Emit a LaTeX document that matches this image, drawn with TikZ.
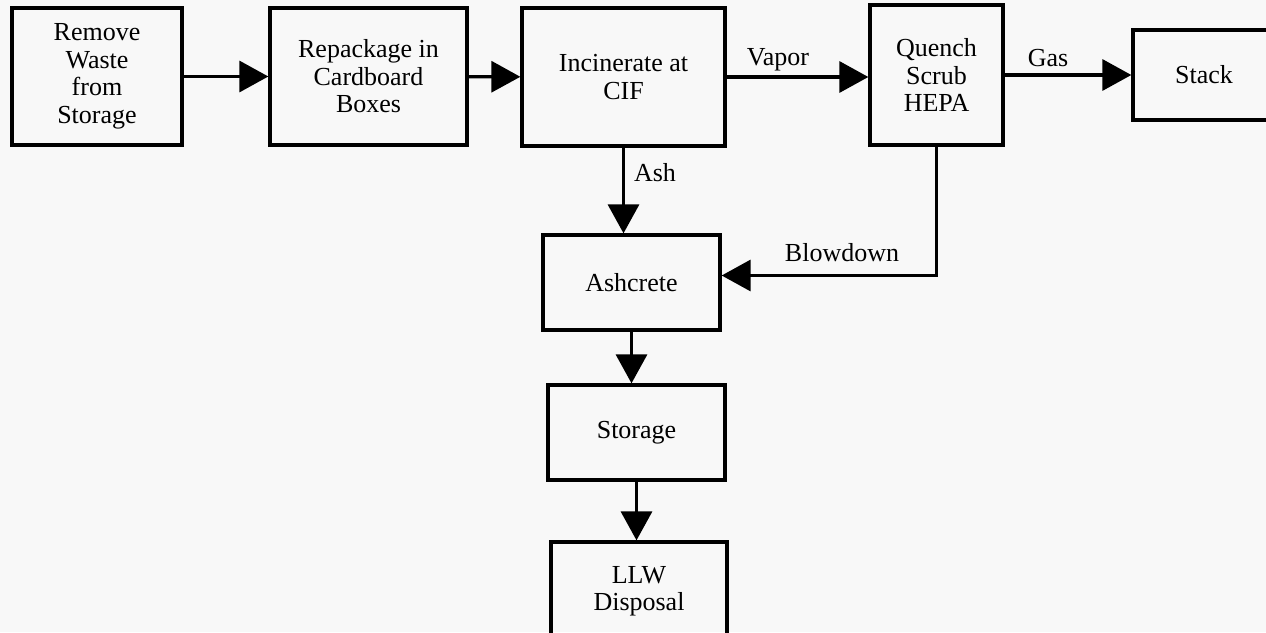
\documentclass[tikz,border=0pt]{standalone}
\usepackage{fontspec}
\setmainfont{Liberation Serif}
\usetikzlibrary{arrows.meta}
\definecolor{paper}{HTML}{F8F8F8}
\begin{document}
\begin{tikzpicture}[x=1pt,y=-1pt,
  box/.style={draw, line width=3.3pt, align=center, inner sep=0pt,
              font=\fontsize{26}{27.5}\selectfont},
  flow/.style={line width=3.3pt, -{Triangle[length=29pt,width=31pt]}},
  tag/.style={font=\fontsize{26}{27.5}\selectfont, inner sep=0pt}]
\useasboundingbox (0,0) rectangle (1266,632);
\clip (0,0) rectangle (1266,632);
\fill[paper] (0,0) rectangle (1266,632);

% process boxes (Stack and LLW Disposal run past the sheet edge)
\node[box, minimum width=170pt, minimum height=137pt] (remove) at (97,76.5)
  {Remove\\Waste\\from\\Storage};
\node[box, minimum width=197pt, minimum height=137pt] (repack) at (368.5,76.5)
  {Repackage in\\Cardboard\\Boxes};
\node[box, minimum width=203pt, minimum height=138pt] (incin) at (623.5,77)
  {Incinerate at\\CIF};
\node[box, minimum width=133pt, minimum height=140pt] (quench) at (936.5,75)
  {Quench\\Scrub\\HEPA};
\node[box, minimum width=142pt, minimum height=90pt] (stack) at (1204,75)
  {Stack};
\node[box, minimum width=177pt, minimum height=95pt] (ashcrete) at (631.5,282.5)
  {Ashcrete};
\node[box, minimum width=177pt, minimum height=95pt] (storage) at (636.5,432.5)
  {Storage};
\node[box, minimum width=176pt, minimum height=98pt] (llw) at (639,591)
  {LLW\\Disposal};

% flows
\draw[flow] (remove) -- (repack);
\draw[flow] (repack) -- (incin);
\draw[flow] (incin.east) -- (quench.west |- incin.east);
\draw[flow] (quench) -- (stack);
\draw[flow] (incin.south) -- (incin.south |- ashcrete.north);
\draw[flow] (quench.south) |- ([yshift=7pt]ashcrete.east);
\draw[flow] (ashcrete.south) -- (ashcrete.south |- storage.north);
\draw[flow] (storage.south) -- (storage.south |- llw.north);

% stream labels
\node[tag] (vapor) at (778,60) {Vapor};
\node[tag] (gas) at (1048,58) {Gas};
\node[tag] (ash) at (655,173) {Ash};
\node[tag] (blowdown) at (842,253) {Blowdown};
\end{tikzpicture}
\end{document}
